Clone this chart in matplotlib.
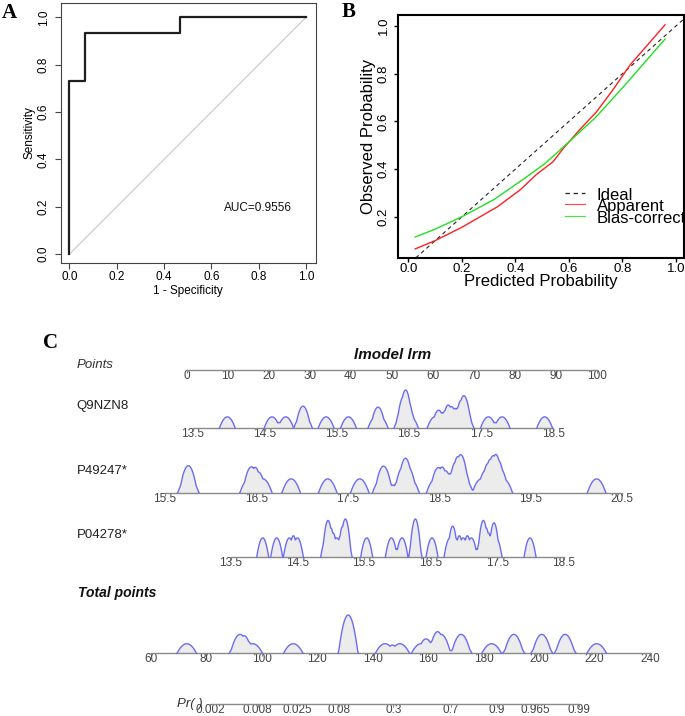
import numpy as np
import matplotlib
matplotlib.use("Agg")
import matplotlib.pyplot as plt
from matplotlib.transforms import Bbox, TransformedBbox

plt.rcParams['font.family'] = ['Liberation Sans', 'DejaVu Sans']

# ---------------- data ----------------
# Panel A: ROC curve
roc_fpr = [0.0, 0.0, 0.067, 0.467, 1.0]
roc_tpr = [0.0, 0.733, 0.933, 1.0, 1.0]
auc_label = "AUC=0.9556"

# Panel B: calibration curves
apparent_x = [0.025, 0.10, 0.20, 0.333, 0.42, 0.479, 0.54, 0.579, 0.64, 0.703, 0.766, 0.828, 0.959]
apparent_y = [0.065, 0.10, 0.156, 0.242, 0.315, 0.378, 0.43, 0.487, 0.565, 0.64, 0.735, 0.836, 1.005]
biascorr_x = [0.025, 0.10, 0.20, 0.321, 0.42, 0.508, 0.56, 0.70, 0.806, 0.959]
biascorr_y = [0.115, 0.148, 0.20, 0.273, 0.35, 0.421, 0.473, 0.617, 0.748, 0.945]
legend_labels = ["Ideal", "Apparent", "Bias-corrected"]

# Panel C: nomogram
points_ticks = [0, 10, 20, 30, 40, 50, 60, 70, 80, 90, 100]
row_names = ["Q9NZN8", "P49247*", "P04278*"]
q9nzn8_ticks = [13.5, 14.5, 15.5, 16.5, 17.5, 18.5]
p49247_ticks = [15.5, 16.5, 17.5, 18.5, 19.5, 20.5]
p04278_ticks = [13.5, 14.5, 15.5, 16.5, 17.5, 18.5]
total_ticks = [60, 80, 100, 120, 140, 160, 180, 200, 220, 240]
prob_ticks = [0.002, 0.008, 0.025, 0.08, 0.3, 0.7, 0.9, 0.965, 0.99]
prob_labels = ["0.002", "0.008", "0.025", "0.08", "0.3", "0.7", "0.9", "0.965", "0.99"]
lp_intercept = -12.824
lp_slope = 0.08124

q9nzn8_obs = [13.98, 14.60, 14.79, 15.01, 15.05, 15.35, 15.66, 16.04, 16.10,
              16.40, 16.43, 16.46, 16.52, 16.86, 16.96, 17.06, 17.11,
              17.23, 17.26, 17.29, 17.60, 17.79, 18.38]
p49247_obs = [15.74, 15.77, 16.42, 16.47, 16.57, 16.88, 17.28, 17.63, 17.87, 17.91,
              18.08, 18.13, 18.18, 18.46, 18.52, 18.61, 18.70, 18.73, 18.77,
              18.96, 19.05, 19.09, 19.13, 19.20, 20.22]
p04278_obs = [13.98, 14.19, 14.38, 14.50, 14.94, 14.98, 15.09, 15.21, 15.23, 15.54,
              15.91, 16.07, 16.26, 16.28, 16.52, 16.79, 16.87, 16.99, 17.11,
              17.27, 17.31, 17.42, 17.48, 17.99]
total_obs = [73.0, 91.8, 92.6, 96.8, 111.4, 131.0, 131.1, 131.3, 131.4,
             144.5, 149.8, 157.5, 161.0, 164.3, 165.0, 171.5, 172.3,
             182.9, 190.5, 191.3, 200.6, 201.4, 209.0, 209.8, 220.8]

# ---------------- figure ----------------
W, H = 685, 716
fig = plt.figure(figsize=(W / 100, H / 100), dpi=100)


def rect(l, t, r, b):
    return [l / W, 1 - b / H, (r - l) / W, (b - t) / H]


def fx(px):
    return px / W


def fy(py):
    return 1 - py / H


def fmt(v):
    return ("%g" % v) if float(v).is_integer() else ("%.1f" % v)


serif = dict(family=['Liberation Serif', 'DejaVu Serif'], fontweight='bold', fontsize=15)

# ---------------- Panel A ----------------
axA = fig.add_axes(rect(61, 2.7, 315.7, 263))
axA.set_xlim(-0.035, 1.041)
axA.set_ylim(-0.037, 1.062)
axA.plot([0, 1], [0, 1], color='#c8c8c8', lw=0.8)
axA.step(roc_fpr, roc_tpr, where='post', color='#1e1e1e', lw=1.6)
axA.text(0.653, 0.195, auc_label, fontsize=8.5, va='center', ha='left', color='#111111')
ticksA = [0, 0.2, 0.4, 0.6, 0.8, 1.0]
axA.set_xticks(ticksA)
axA.set_xticklabels(["%.1f" % t for t in ticksA])
axA.set_yticks(ticksA)
axA.set_yticklabels(["%.1f" % t for t in ticksA], rotation=90, va='center')
axA.tick_params(axis='both', length=4, width=0.8, color='#444444', labelsize=8.5)
axA.tick_params(axis='x', pad=2)
axA.tick_params(axis='y', pad=4)
for s in axA.spines.values():
    s.set_color('#444444')
    s.set_linewidth(0.8)
axA.set_xlabel("1 - Specificity", fontsize=8.5, va='center')
axA.set_ylabel("Sensitivity", fontsize=8.5, va='center')
axA.xaxis.set_label_coords(0.5, (263 - 291) / 260.3)
axA.yaxis.set_label_coords((29.5 - 61) / 254.7, 0.5)
fig.text(fx(1.5), fy(18), "A", va='baseline', ha='left', **serif)

# ---------------- Panel B ----------------
axB = fig.add_axes(rect(398, 15, 683.5, 258))
axB.set_xlim(-0.039, 1.028)
axB.set_ylim(0.027, 1.046)
axB.axline((0, 0), (1, 1), color='#222222', lw=0.8, ls=(0, (3.5, 3)))
axB.plot(apparent_x, apparent_y, color='#ff2020', lw=1.0)
axB.plot(biascorr_x, biascorr_y, color='#20e020', lw=1.0)
ticksBx = [0, 0.2, 0.4, 0.6, 0.8, 1.0]
ticksBy = [0.2, 0.4, 0.6, 0.8, 1.0]
axB.set_xticks(ticksBx)
axB.set_xticklabels(["%.1f" % t for t in ticksBx])
axB.set_yticks(ticksBy)
axB.set_yticklabels(["%.1f" % t for t in ticksBy], rotation=90, va='center')
axB.tick_params(axis='both', length=3, width=1.0, labelsize=9.5)
axB.tick_params(axis='x', pad=0.5)
axB.tick_params(axis='y', pad=3)
for s in axB.spines.values():
    s.set_color('black')
    s.set_linewidth(1.5)
axB.set_xlabel("Predicted Probability", fontsize=12, va='center')
axB.set_ylabel("Observed Probability", fontsize=12, va='center')
axB.xaxis.set_label_coords(0.5, (258 - 281.5) / 243)
axB.yaxis.set_label_coords((368.3 - 398) / 285.5, 0.5)
leg_styles = [dict(color='#222222', ls=(0, (3.5, 3))), dict(color='#ff5050', ls='-'), dict(color='#50e050', ls='-')]
leg_line_y = [(258 - 192.7) / 243, (258 - 204) / 243, (258 - 216) / 243]
leg_text_y = [(258 - 200) / 243, (258 - 211.3) / 243, (258 - 222.7) / 243]
for lab, st, ly, ty in zip(legend_labels, leg_styles, leg_line_y, leg_text_y):
    axB.plot([0.585, 0.655], [ly, ly], transform=axB.transAxes, lw=0.9, clip_on=False, **st)
    axB.text(0.696, ty, lab, transform=axB.transAxes, fontsize=12, va='baseline', ha='left',
             clip_on=False)
fig.text(fx(341.5), fy(16.7), "B", va='baseline', ha='left', **serif)

# ---------------- Panel C ----------------
fig.text(fx(43.3), fy(348.3), "C", va='baseline', ha='left', **serif)

AX_COL = '#8a8a8a'
TICK_LEN = 3 * 0.72


def nom_axis(l, r, base, h=38.3):
    ax = fig.add_axes(rect(l, base - h, r, base))
    for s in ['top', 'left', 'right']:
        ax.spines[s].set_visible(False)
    ax.spines['bottom'].set_color(AX_COL)
    ax.spines['bottom'].set_linewidth(1.0)
    ax.patch.set_alpha(0)
    ax.set_yticks([])
    ax.set_ylim(0, 1)
    ax.tick_params(axis='x', length=TICK_LEN, width=0.8, color=AX_COL, labelsize=8.5,
                   labelcolor='#444444', pad=-TICK_LEN)
    return ax


def density(obs, bw, grid):
    u = (grid[:, None] - np.asarray(obs)[None, :]) / bw
    k = np.clip(1 - u ** 2, 0, None)
    d = k.sum(axis=1)
    return d / d.max()


def draw_density(ax, obs, bw):
    grid = np.linspace(min(obs) - bw * 1.05, max(obs) + bw * 1.05, 1500)
    d = density(obs, bw, grid)
    ax.fill_between(grid, 0, d, color='#ececec', lw=0, zorder=1)
    pos = d > 0
    keep = pos | np.roll(pos, 1) | np.roll(pos, -1)
    ax.plot(grid, np.where(keep, d, np.nan), color='#6c6cf2', lw=1.0, zorder=3, clip_on=False)


# Points axis
axP = nom_axis(186.7, 596.7, 370, h=1)
axP.set_xlim(0, 100)
axP.set_xticks(points_ticks)
axP.set_xticklabels([fmt(t) for t in points_ticks])
fig.text(fx(76.7), fy(365), "Points", fontsize=9.5, fontstyle='italic', va='center', ha='left', color='#333333')
fig.text(fx(392.2), fy(355), "lmodel lrm", fontsize=11, fontweight='bold', fontstyle='italic',
         va='center', ha='center', color='#111111')

rows = [
    (row_names[0], q9nzn8_obs, q9nzn8_ticks, 0.11, (192.7, 553.3, 428.3), 406),
    (row_names[1], p49247_obs, p49247_ticks, 0.10, (165.0, 622.2, 492.7), 471),
    (row_names[2], p04278_obs, p04278_ticks, 0.09, (230.7, 564.0, 557.3), 535),
]
for name, obs, ticks, bw, (l, r, base), ly in rows:
    ax = nom_axis(l, r, base)
    ax.set_xlim(ticks[0], ticks[-1])
    ax.set_xticks(ticks)
    ax.set_xticklabels([fmt(t) for t in ticks])
    draw_density(ax, obs, bw)
    fig.text(fx(76.7), fy(ly), name, fontsize=9.5, va='center', ha='left', color='#222222')

# Total points
axT = nom_axis(150.7, 650.0, 653.3)
axT.set_xlim(total_ticks[0], total_ticks[-1])
axT.set_xticks(total_ticks)
axT.set_xticklabels([fmt(t) for t in total_ticks])
draw_density(axT, total_obs, 3.5)
clip = TransformedBbox(Bbox([[0, 0], [660 / W, 1]]), fig.transFigure)
for lab in axT.get_xticklabels():
    lab.set_clip_on(True)
    lab.set_clip_box(clip)
fig.text(fx(78.3), fy(593.3), "Total points", fontsize=10, fontweight='bold', fontstyle='italic',
         va='center', ha='left', color='#111111')

# Probability axis
probs = np.asarray(prob_ticks)
prob_pos = (np.log(probs / (1 - probs)) - lp_intercept) / lp_slope
axR = nom_axis(150.7, 650.0, 704.3, h=1)
axR.set_xlim(total_ticks[0], total_ticks[-1])
axR.spines['bottom'].set_bounds(prob_pos[0], prob_pos[-1])
axR.set_xticks(prob_pos)
axR.set_xticklabels(prob_labels)
fig.text(fx(176.7), fy(704), "Pr( )", fontsize=9.5, fontstyle='italic', va='center', ha='left', color='#333333')

fig.savefig("out.png", dpi=100)
